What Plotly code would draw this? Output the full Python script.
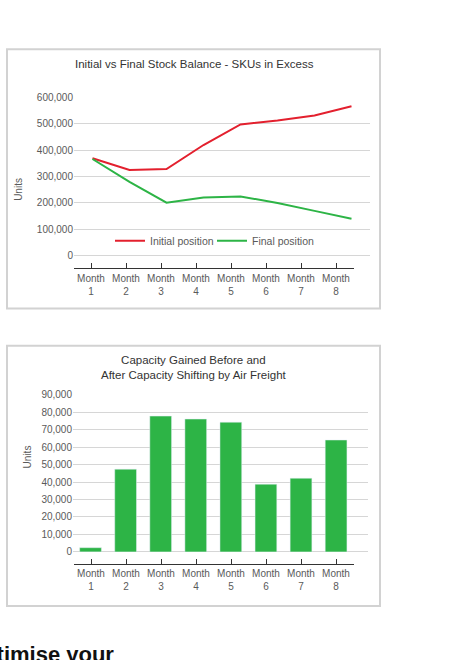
import plotly.graph_objects as go

# --- data ---
months = ["Month 1", "Month 2", "Month 3", "Month 4", "Month 5", "Month 6", "Month 7", "Month 8"]
month_labels = ["Month<br>1", "Month<br>2", "Month<br>3", "Month<br>4",
                "Month<br>5", "Month<br>6", "Month<br>7", "Month<br>8"]
initial_position = [370000, 325000, 329000, 420000, 498000, 513000, 532000, 567000]
final_position = [367000, 280000, 201000, 221000, 225000, 200000, 170000, 140000]
capacity_gained = [2400, 47400, 77800, 76100, 74300, 38800, 42200, 64100]

W, H = 460, 660
FONT = "Liberation Sans, Arial, sans-serif"
RED = "#e3202e"
GREEN = "#2db446"
GRID = "#d6d6d6"
TXT = "#5a5a5a"


def px(x):
    return x / W


def py(y):
    return 1 - y / H


fig = go.Figure()

# chart 1: lines
fig.add_trace(go.Scatter(x=months, y=initial_position, name="Initial position", mode="lines",
                         line=dict(color=RED, width=2), xaxis="x", yaxis="y"))
fig.add_trace(go.Scatter(x=months, y=final_position, name="Final position", mode="lines",
                         line=dict(color=GREEN, width=2), xaxis="x", yaxis="y"))
# chart 2: bars
fig.add_trace(go.Bar(x=months, y=capacity_gained, marker_color=GREEN, width=0.62,
                     showlegend=False, xaxis="x2", yaxis="y2"))
# empty traces so the separate month label axes get drawn
fig.add_trace(go.Scatter(x=months, y=[None] * 8, showlegend=False, hoverinfo="skip",
                         xaxis="x3", yaxis="y3"))
fig.add_trace(go.Scatter(x=months, y=[None] * 8, showlegend=False, hoverinfo="skip",
                         xaxis="x4", yaxis="y4"))

hidden_x = dict(type="category", visible=False, fixedrange=True)
label_x = dict(type="category", range=[-0.5, 7.5],
               showline=True, linecolor="#333333", linewidth=1.3,
               ticks="inside", ticklen=5, tickcolor="#333333", tickwidth=1,
               tickvals=months, ticktext=month_labels, showgrid=False, zeroline=False,
               tickfont=dict(family=FONT, size=10, color=TXT))
hidden_y = dict(visible=False, showgrid=False, zeroline=False, range=[0, 1])
y_common = dict(tickformat=",", gridcolor=GRID, gridwidth=1, zeroline=True,
                zerolinecolor=GRID, zerolinewidth=1, showline=False, ticks="",
                tickfont=dict(family=FONT, size=10, color=TXT))

fig.update_layout(
    width=W, height=H, autosize=False,
    margin=dict(l=0, r=0, t=0, b=0),
    paper_bgcolor="white", plot_bgcolor="rgba(0,0,0,0)",
    font=dict(family=FONT, color=TXT),
    xaxis=dict(hidden_x, domain=[px(74), px(370)], range=[-0.5, 7.5], anchor="y"),
    yaxis=dict(y_common, domain=[py(254.3), py(93.3)], range=[0, 600000], dtick=100000, anchor="x"),
    xaxis2=dict(hidden_x, domain=[px(73), px(368)], range=[-0.5, 7.91], anchor="y2"),
    yaxis2=dict(y_common, domain=[py(556), py(396)], range=[0, 90000], dtick=10000, anchor="x2"),
    xaxis3=dict(label_x, domain=[px(73.5), px(353.5)], anchor="y3"),
    yaxis3=dict(hidden_y, domain=[py(267.3), py(262)], anchor="x3"),
    xaxis4=dict(label_x, domain=[px(73.5), px(353.5)], anchor="y4"),
    yaxis4=dict(hidden_y, domain=[py(568.3), py(563)], anchor="x4"),
    legend=dict(orientation="h", x=px(110), xanchor="left", y=py(239), yanchor="middle",
                bgcolor="rgba(0,0,0,0)", font=dict(family=FONT, size=10.5, color=TXT),
                itemwidth=30, entrywidth=57, tracegroupgap=0),
    bargap=0.38,
)

# frames round each chart
for y0, y1 in [(44, 308), (346, 611)]:
    fig.add_shape(type="rect", xref="paper", yref="paper",
                  x0=px(7), x1=px(380), y0=py(y0), y1=py(y1),
                  line=dict(color="#d2d2d2", width=2), fillcolor="rgba(0,0,0,0)")

fig.add_annotation(text="Initial vs Final Stock Balance - SKUs in Excess",
                   x=px(194), y=py(59), xref="paper", yref="paper", showarrow=False,
                   xanchor="center", yanchor="middle", font=dict(family=FONT, size=11.5, color="#333333"))
fig.add_annotation(text="Capacity Gained Before and<br>After Capacity Shifting by Air Freight",
                   x=px(194), y=py(368), xref="paper", yref="paper", showarrow=False,
                   xanchor="center", yanchor="middle", font=dict(family=FONT, size=11.5, color="#333333"))
fig.add_annotation(text="Units", x=px(11), y=py(173), xref="paper", yref="paper", showarrow=False,
                   textangle=-90, font=dict(family=FONT, size=10, color=TXT))
fig.add_annotation(text="Units", x=px(20), y=py(473), xref="paper", yref="paper", showarrow=False,
                   textangle=-90, font=dict(family=FONT, size=10, color=TXT))

# page heading cut off at the bottom edge
fig.add_annotation(text="<b>Optimise your</b>", x=px(-36), y=py(646), xref="paper", yref="paper",
                   showarrow=False, xanchor="left", yanchor="top",
                   font=dict(family=FONT, size=22, color="#111111"))

# drop the default 8px page margin so the figure sits flush with the window corner
fig.write_html("out.html", config={"displayModeBar": False},
               post_script="document.body.style.margin='0';")
